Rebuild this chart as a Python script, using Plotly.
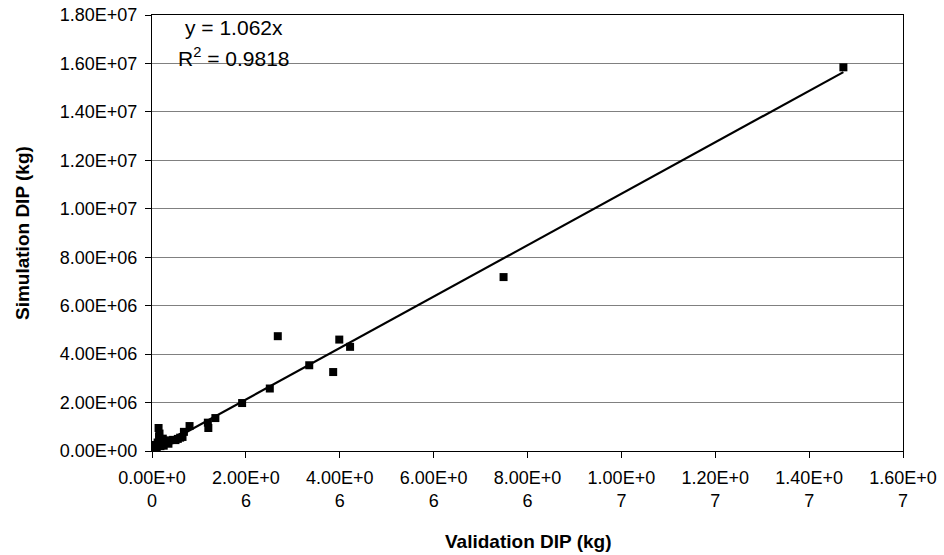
import plotly.graph_objects as go

# Validation (x) and simulation (y) DIP values, kg
validation_dip = [
    14.73e6, 7.49e6, 2.68e6, 3.99e6, 4.22e6, 3.35e6, 3.86e6, 2.51e6, 1.92e6,
    1.35e6, 1.19e6, 1.20e6, 0.80e6, 0.68e6, 0.65e6, 0.55e6, 0.14e6, 0.16e6,
    0.23e6, 0.37e6, 0.30e6, 0.45e6, 0.20e6, 0.10e6, 0.08e6, 0.05e6, 0.03e6,
    0.02e6, 0.12e6, 0.18e6, 0.25e6, 0.06e6, 0.04e6, 0.01e6, 0.09e6, 0.15e6,
    0.28e6, 0.35e6, 0.50e6, 0.60e6,
]
simulation_dip = [
    15.84e6, 7.18e6, 4.74e6, 4.60e6, 4.30e6, 3.54e6, 3.26e6, 2.58e6, 1.98e6,
    1.36e6, 1.17e6, 0.95e6, 1.03e6, 0.79e6, 0.58e6, 0.50e6, 0.95e6, 0.72e6,
    0.51e6, 0.44e6, 0.40e6, 0.46e6, 0.30e6, 0.15e6, 0.25e6, 0.10e6, 0.05e6,
    0.02e6, 0.35e6, 0.20e6, 0.22e6, 0.08e6, 0.12e6, 0.01e6, 0.18e6, 0.60e6,
    0.38e6, 0.30e6, 0.45e6, 0.55e6,
]
slope = 1.062
r_squared = 0.9818

x_tick_vals = [0, 2e6, 4e6, 6e6, 8e6, 10e6, 12e6, 14e6, 16e6]
x_tick_text = ["0.00E+0<br>0", "2.00E+0<br>6", "4.00E+0<br>6", "6.00E+0<br>6",
               "8.00E+0<br>6", "1.00E+0<br>7", "1.20E+0<br>7", "1.40E+0<br>7",
               "1.60E+0<br>7"]
y_tick_vals = [0, 2e6, 4e6, 6e6, 8e6, 10e6, 12e6, 14e6, 16e6, 18e6]
y_tick_text = ["0.00E+00", "2.00E+06", "4.00E+06", "6.00E+06", "8.00E+06",
               "1.00E+07", "1.20E+07", "1.40E+07", "1.60E+07", "1.80E+07"]

font = "Liberation Sans, Arial, sans-serif"

fig = go.Figure()
fig.add_trace(go.Scatter(
    x=validation_dip, y=simulation_dip, mode="markers",
    marker=dict(symbol="square", size=8, color="black"),
    showlegend=False, hoverinfo="x+y",
))
x_max = max(validation_dip)
fig.add_trace(go.Scatter(
    x=[0, x_max], y=[0, slope * x_max], mode="lines",
    line=dict(color="black", width=2.2), showlegend=False, hoverinfo="skip",
))

fig.update_layout(
    width=944, height=555,
    margin=dict(l=152, r=41, t=15, b=104),
    paper_bgcolor="white", plot_bgcolor="white",
    font=dict(family=font, size=18, color="black"),
    xaxis=dict(
        range=[0, 16e6], tickvals=x_tick_vals, ticktext=x_tick_text,
        showgrid=False, zeroline=False, showline=True, linecolor="black",
        linewidth=1, mirror=True, ticks="outside", ticklen=6,
        tickcolor="black", automargin=False, ticklabelstandoff=4,
        ticklabeloverflow="allow",
    ),
    yaxis=dict(
        range=[0, 18e6], tickvals=y_tick_vals, ticktext=y_tick_text,
        showgrid=True, gridcolor="#808080", gridwidth=1,
        zeroline=False, showline=True, linecolor="black", linewidth=1,
        mirror=True, ticks="outside", ticklen=6, tickcolor="black",
        automargin=False, ticklabelstandoff=4, ticklabeloverflow="allow",
    ),
    annotations=[
        dict(text="<b>Validation DIP (kg)</b>", xref="paper", yref="paper",
             x=0.5, y=0, xanchor="center", yanchor="middle", yshift=-90,
             showarrow=False, font=dict(size=19)),
        dict(text="<b>Simulation DIP (kg)</b>", xref="paper", yref="paper",
             x=0, y=0.5, xanchor="center", yanchor="middle", xshift=-130,
             textangle=-90, showarrow=False, font=dict(size=19)),
        dict(text=f"y = {slope}x", xref="paper", yref="paper",
             x=0.041, y=0.972, xanchor="left", yanchor="middle",
             showarrow=False, font=dict(size=21)),
        dict(text=f"R<sup>2</sup> = {r_squared}", xref="paper", yref="paper",
             x=0.032, y=0.904, xanchor="left", yanchor="middle",
             showarrow=False, font=dict(size=21)),
    ],
)

# remove the browser's default body margin so the 944x555 figure fills the page
fig.write_html(
    "out.html",
    config={"displayModeBar": False},
    post_script="document.body.style.margin='0';document.body.style.overflow='hidden';",
)
